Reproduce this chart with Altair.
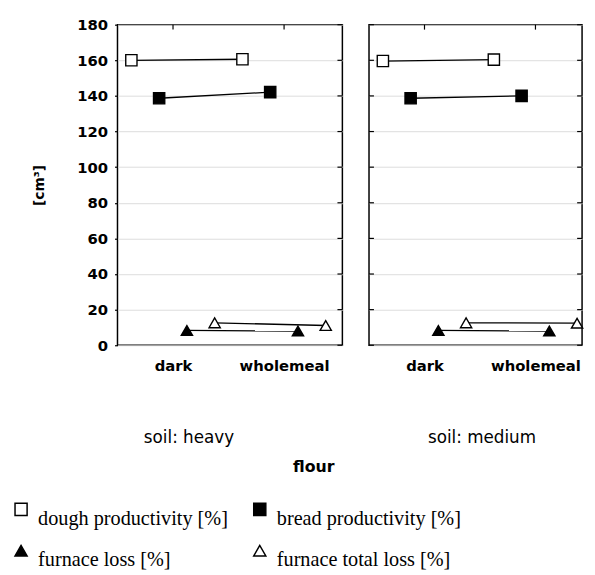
import json
import altair as alt
import pandas as pd

# ---- data ----
flours = ["dark", "wholemeal"]
soils = ["heavy", "medium"]
series = ["dough productivity [%]", "bread productivity  [%]",
          "furnace loss [%]", "furnace total loss [%]"]

heavy_dough = [160.0, 160.6]
heavy_bread = [138.7, 142.1]
heavy_loss = [8.3, 8.0]
heavy_total = [12.6, 11.1]

medium_dough = [159.6, 160.4]
medium_bread = [138.7, 140.0]
medium_loss = [8.3, 8.0]
medium_total = [12.6, 12.4]

y_ticks = [0, 20, 40, 60, 80, 100, 120, 140, 160, 180]

# ---- build the table ----
offsets = [-0.375, -0.125, 0.125, 0.375]   # side-by-side placement of the series
shapes = ["square", "square", "triangle-up", "triangle-up"]
fills = ["white", "black", "black", "white"]
values = {
    "heavy": [heavy_dough, heavy_bread, heavy_loss, heavy_total],
    "medium": [medium_dough, medium_bread, medium_loss, medium_total],
}
rows = []
for soil in soils:
    for si, s in enumerate(series):
        for fi, f in enumerate(flours):
            rows.append({"soil": soil, "series": s, "flour": f,
                         "value": values[soil][si][fi], "pos": fi + offsets[si]})
df = pd.DataFrame(rows)
tick_df = pd.DataFrame({"value": y_ticks})
cat_df = pd.DataFrame({"pos": list(range(len(flours)))})

# legend fills column by column: reorder so rows read dough|bread, loss|total
leg_order = [0, 2, 1, 3]
leg_domain = [series[i] for i in leg_order]
leg_shapes = [shapes[i] for i in leg_order]
leg_fills = [fills[i] for i in leg_order]

label_expr = json.dumps(flours) + "[datum.value]"
H = 325

leg = alt.Legend(
    title=None, orient="none", legendX=-108, legendY=481, columns=2,
    labelFont="Liberation Serif", labelFontSize=20.5, labelColor="black",
    labelBaseline="top", labelOffset=7, columnPadding=22, rowPadding=11,
    symbolSize=150, symbolStrokeWidth=1.5, labelLimit=400,
)


def panel(soil, domain, width, title_x, first):
    d = df[df.soil == soil]
    x_enc = alt.X(
        "pos:Q",
        scale=alt.Scale(domain=domain, nice=False, zero=False),
        axis=alt.Axis(values=list(range(len(flours))), labelExpr=label_expr,
                      labelFont="DejaVu Sans", labelFontWeight="bold", labelFontSize=15,
                      labelColor="black", labelPadding=14, ticks=False, domain=False,
                      grid=False, title="soil: " + soil, titleFont="DejaVu Sans",
                      titleFontWeight="normal", titleFontSize=17, titleColor="black",
                      titlePadding=57, titleX=title_x, titleAlign="center",
                      titleBaseline="top"),
    )
    if first:
        y_axis = alt.Axis(values=y_ticks, labelFont="DejaVu Sans", labelFontWeight="bold",
                          labelFontSize=15, labelColor="black", labelPadding=7,
                          tickSize=3, tickColor="black", tickWidth=1.2, domain=False,
                          grid=True, gridColor="#dcdcdc", gridWidth=1,
                          title="[cm³]", titleFont="DejaVu Sans", titleFontWeight="bold",
                          titleFontSize=14, titleColor="black", titlePadding=31)
    else:
        y_axis = alt.Axis(values=y_ticks, labels=False, ticks=False, domain=False,
                          grid=True, gridColor="#dcdcdc", gridWidth=1, title=None)
    y_enc = alt.Y("value:Q", scale=alt.Scale(domain=[0, 180], nice=False), axis=y_axis)

    lines = alt.Chart(d).mark_line(color="black", strokeWidth=1.3).encode(
        x=x_enc, y=y_enc, detail="series:N")
    points = alt.Chart(d).mark_point(filled=True, strokeWidth=1.4,
                                     size=130, opacity=1).encode(
        x=x_enc, y=y_enc,
        shape=alt.Shape("series:N", scale=alt.Scale(domain=leg_domain, range=leg_shapes),
                        legend=leg),
        fill=alt.Fill("series:N", scale=alt.Scale(domain=leg_domain, range=leg_fills),
                      legend=leg),
        stroke=alt.Stroke("series:N", scale=alt.Scale(domain=leg_domain,
                                                      range=["black"] * len(series)),
                          legend=leg),
    )
    right_ticks = alt.Chart(tick_df).mark_rule(color="black", strokeWidth=1.2).encode(
        y=y_enc, x=alt.value(width - 5), x2=alt.value(width))
    top_ticks = alt.Chart(cat_df).mark_rule(color="black", strokeWidth=1.2).encode(
        x=x_enc, y=alt.value(0), y2=alt.value(5))
    layers = [lines, points, right_ticks, top_ticks]
    if not first:
        left_ticks = alt.Chart(tick_df).mark_rule(color="black", strokeWidth=1.2).encode(
            y=y_enc, x=alt.value(0), x2=alt.value(5))
        layers.append(left_ticks)
    ch = alt.layer(*layers).properties(width=width, height=H)
    if first:
        ch = ch.properties(title=alt.TitleParams(
            "flour", orient="bottom", anchor="start", frame="group", dx=178, offset=13,
            baseline="top", font="DejaVu Sans", fontWeight="bold", fontSize=16,
            color="black"))
    return ch


left = panel("heavy", [-0.5, 1.525], 228, 72, True)
right = panel("medium", [-0.5, 1.42], 216, 114, False)

chart = alt.hconcat(left, right, spacing=23).configure_view(
    stroke="black", strokeWidth=1.5
).properties(
    padding={"left": 3, "top": 5, "right": 0, "bottom": 0},
    background="white",
)

chart.save("out.html", embed_options={"renderer": "svg", "actions": False})
